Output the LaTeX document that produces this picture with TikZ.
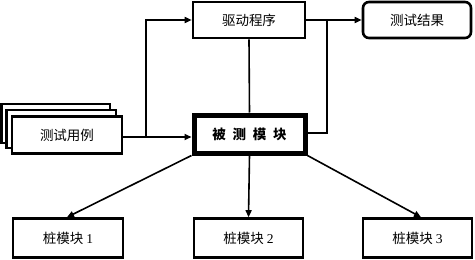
\documentclass[tikz,border=0pt]{standalone}
\usepackage{fontspec}
\setmainfont{Liberation Serif}
\newfontfamily\cjk{Noto Sans CJK SC}
\usetikzlibrary{arrows.meta}
\begin{document}
\begin{tikzpicture}[x=1pt,y=-1pt,
  box/.style={draw,line width=2.6pt,fill=white,inner sep=0pt,font=\fontsize{13.5}{15}\selectfont},
  conn/.style={line width=1.6pt},
  arr/.style={conn,-{Triangle[length=7pt,width=6pt]}}]
\useasboundingbox (0,0) rectangle (475,260);
% stacked test cases
\draw[line width=2.6pt,fill=white] (1.5,104) rectangle (110,143);
\draw[line width=2.6pt,fill=white] (6.5,110) rectangle (116,148);
\node[box,minimum width=110pt,minimum height=37pt] (tc) at (67,135) {\cjk 测试用例};
% driver
\node[box,minimum width=112pt,minimum height=36pt] (drv) at (249,20) {\cjk 驱动程序};
% result
\node[box,rounded corners=6pt,minimum width=108pt,minimum height=36pt] (res) at (417,20) {\cjk 测试结果};
% module under test
\node[box,line width=5pt,minimum width=111pt,minimum height=38pt] (mut) at (249.5,134) {\cjk\bfseries 被\hspace{0.5em}测\hspace{0.5em}模\hspace{0.5em}块};
% stubs
\node[box,minimum width=110pt,minimum height=39pt] (s1) at (68,238) {\cjk 桩模块 \rmfamily 1};
\node[box,minimum width=109pt,minimum height=39pt] (s2) at (248.5,238) {\cjk 桩模块 \rmfamily 2};
\node[box,minimum width=109pt,minimum height=39pt] (s3) at (417.5,238) {\cjk 桩模块 \rmfamily 3};
% connectors
\coordinate (j1) at (146,137);
\coordinate (j2) at (327,20);
\draw[arr] (tc.east |- j1) -- (mut.west |- j1);
\draw[arr] (j1) -- (146,20) -- (drv.west);
\draw[arr] (drv.east) -- (res.west);
\draw[conn] (j2) -- (327,133) -- (mut.east |- 0,133);
\draw[conn] (drv.south) -- (mut.north);
\draw[arr] (mut.south west) -- (s1.north -| 67,0);
\draw[arr] (mut.south) -- (s2.north);
\draw[arr] (mut.south east) -- (s3.north -| 421,0);
\end{tikzpicture}
\end{document}
